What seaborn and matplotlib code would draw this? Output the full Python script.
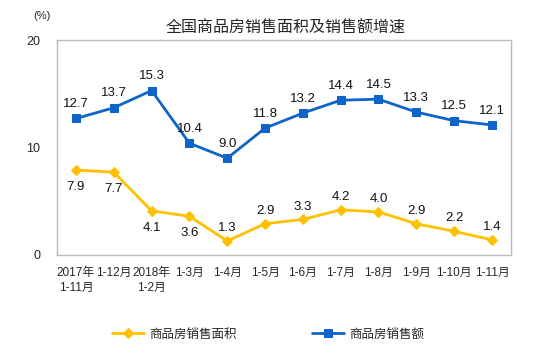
import pandas as pd
import matplotlib
matplotlib.use("Agg")
import matplotlib.pyplot as plt
import seaborn as sns

months = ["2017年\n1-11月", "1-12月", "2018年\n1-2月", "1-3月", "1-4月", "1-5月",
          "1-6月", "1-7月", "1-8月", "1-9月", "1-10月", "1-11月"]
area = [7.9, 7.7, 4.1, 3.6, 1.3, 2.9, 3.3, 4.2, 4.0, 2.9, 2.2, 1.4]
sales = [12.7, 13.7, 15.3, 10.4, 9.0, 11.8, 13.2, 14.4, 14.5, 13.3, 12.5, 12.1]
area_label_below = [True, True, True, True] + [False] * 8

sns.set_style("white")
plt.rcParams['font.family'] = ['Liberation Sans', 'Noto Sans CJK SC', 'DejaVu Sans']

df = pd.DataFrame({"idx": range(len(months)), "area": area, "sales": sales})

fig = plt.figure(figsize=(5.54, 3.58), dpi=100)
ax = fig.add_axes([0.103, 0.288, 0.819, 0.6])

yellow = "#FFC000"
blue = "#0E64C8"
sns.lineplot(data=df, x="idx", y="area", ax=ax, color=yellow, marker="D",
             markersize=5.5, markeredgecolor=yellow, linewidth=2, label="商品房销售面积")
sns.lineplot(data=df, x="idx", y="sales", ax=ax, color=blue, marker="s",
             markersize=5.5, markeredgecolor=blue, linewidth=2, label="商品房销售额")

for i, v in enumerate(area):
    if area_label_below[i]:
        ax.annotate(f"{v:.1f}", (i, v), xytext=(0, -8), textcoords="offset points",
                    ha="center", va="top", fontsize=9.5, color="#111111")
    else:
        ax.annotate(f"{v:.1f}", (i, v), xytext=(0, 5), textcoords="offset points",
                    ha="center", va="bottom", fontsize=9.5, color="#111111")
for i, v in enumerate(sales):
    ax.annotate(f"{v:.1f}", (i, v), xytext=(0, 6), textcoords="offset points",
                ha="center", va="bottom", fontsize=9.5, color="#111111")

ax.set_xlim(-0.5, len(months) - 0.5)
ax.set_ylim(0, 20)
ax.set_yticks([0, 10, 20])
ax.set_xticks(range(len(months)))
ax.set_xticklabels(months, fontsize=8.5, linespacing=1.3)
ax.set_xticks([k - 0.5 for k in range(1, len(months))], minor=True)
ax.tick_params(axis="x", which="major", length=0, pad=9)
ax.tick_params(axis="x", which="minor", length=4, direction="in", color="#BBBBBB", width=0.8)
ax.tick_params(axis="y", length=4, direction="out", color="#BBBBBB", labelsize=9, pad=8)
for s in ax.spines.values():
    s.set_color("#BBBBBB")
    s.set_linewidth(1)
ax.set_xlabel("")
ax.set_ylabel("")

fig.text(0.06, 0.955, "(%)", fontsize=8, ha="left", va="center")
fig.text(0.515, 0.922, "全国商品房销售面积及销售额增速", fontsize=11.5, ha="center", va="center")

ax.legend(loc="upper center", bbox_to_anchor=(0.465, -0.29), ncol=2, frameon=False,
          fontsize=9, columnspacing=6, handlelength=2.6, handletextpad=0.4)

fig.savefig("out.png", dpi=100)
